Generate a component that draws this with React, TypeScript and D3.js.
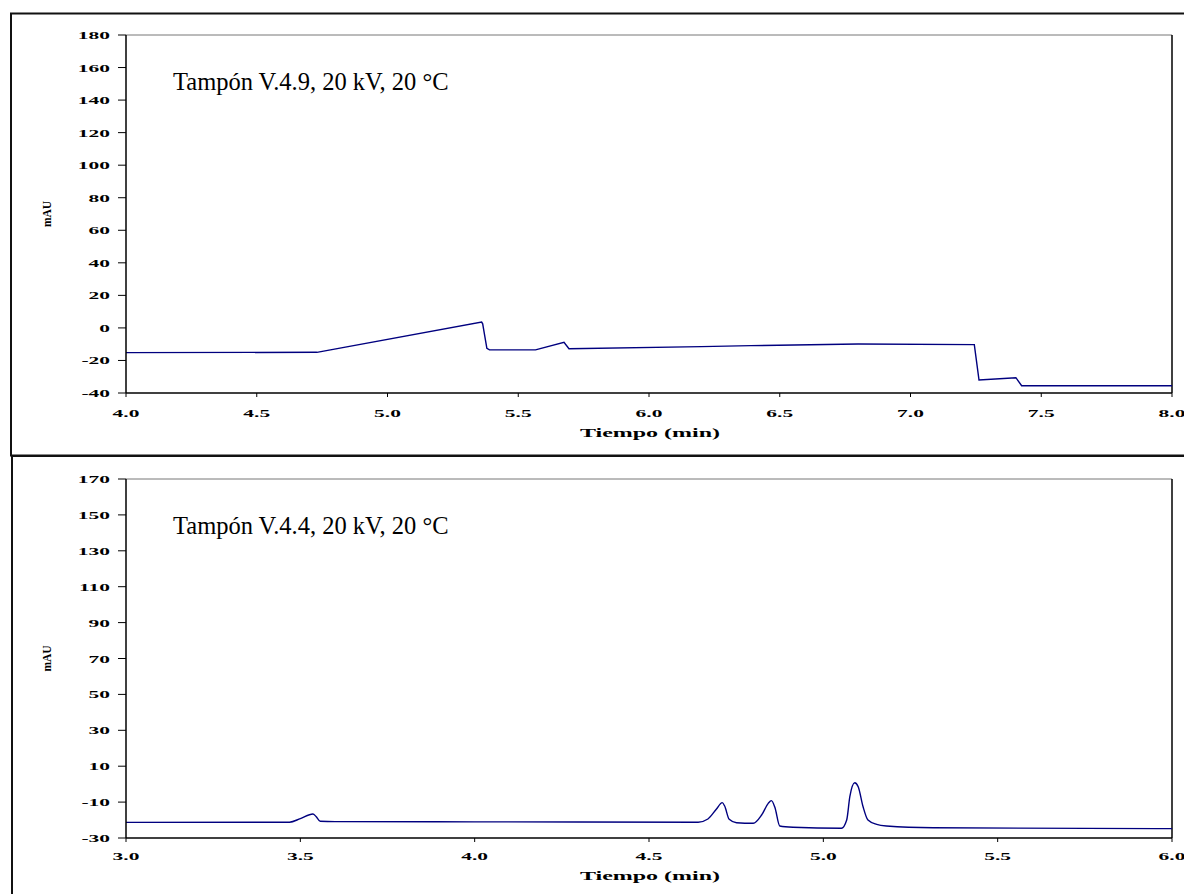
import React from "react";
import * as d3 from "d3";

const topTitle = "Tampón V.4.9, 20 kV, 20 °C";
const bottomTitle = "Tampón V.4.4, 20 kV, 20 °C";
const xLabel = "Tiempo (min)";
const yLabel = "mAU";

const topXTicks = [4.0, 4.5, 5.0, 5.5, 6.0, 6.5, 7.0, 7.5, 8.0];
const topYTicks = [-40, -20, 0, 20, 40, 60, 80, 100, 120, 140, 160, 180];
const topTime = [4.0, 4.73, 5.36, 5.364, 5.372, 5.38, 5.39, 5.566, 5.675, 5.694, 6.2, 6.39, 6.8, 7.244, 7.252, 7.262, 7.403, 7.425, 8.0];
const topSignal = [-15.2, -15.0, 3.6, 2.5, -5, -12.5, -13.5, -13.5, -8.8, -12.8, -11.5, -10.9, -9.9, -10.3, -20, -32, -30.6, -35.5, -35.5];

const botXTicks = [3.0, 3.5, 4.0, 4.5, 5.0, 5.5, 6.0];
const botYTicks = [-30, -10, 10, 30, 50, 70, 90, 110, 130, 150, 170];
const botTime = [3.0, 3.469, 3.5, 3.536, 3.545, 3.557, 3.6, 4.0, 4.641, 4.669, 4.693, 4.71, 4.717, 4.73, 4.751, 4.799, 4.823, 4.842, 4.851, 4.861, 4.875, 4.913, 5.052, 5.067, 5.076, 5.09, 5.1, 5.114, 5.128, 5.153, 5.181, 5.315, 6.0];
const botSignal = [-21.3, -21.2, -19.2, -16.6, -18.0, -20.7, -20.9, -21.0, -21.2, -19.4, -14.0, -10.3, -12.2, -19.6, -21.5, -21.8, -17.2, -10.7, -9.2, -12.9, -23.3, -24.0, -24.6, -20.0, -7.0, 0.8, -1.4, -12.6, -20.0, -22.4, -23.3, -24.3, -24.8];

type PanelProps = {
  title: string;
  xTicks: number[];
  yTicks: number[];
  time: number[];
  signal: number[];
  top: number;
  bottom: number;
  smooth: boolean;
  xLabOff: number;
  titleY: number;
};

const LEFT = 126;
const RIGHT = 1172;
const FONT = "'Liberation Serif', 'Times New Roman', serif";

function Panel(p: PanelProps) {
  const x = d3.scaleLinear().domain([p.xTicks[0], p.xTicks[p.xTicks.length - 1]]).range([LEFT, RIGHT]);
  const y = d3.scaleLinear().domain([p.yTicks[0], p.yTicks[p.yTicks.length - 1]]).range([p.bottom, p.top]);
  const pts = p.time.map((t, i) => [t, p.signal[i]] as [number, number]);
  const line = d3
    .line<[number, number]>()
    .x((d) => x(d[0]))
    .y((d) => y(d[1]))
    .curve(p.smooth ? d3.curveMonotoneX : d3.curveLinear);
  const fmt = d3.format(".1f");
  const midY = (p.top + p.bottom) / 2;
  return (
    <g>
      <line x1={LEFT} x2={RIGHT} y1={p.top} y2={p.top} stroke="#777" strokeWidth={1} />
      <line x1={RIGHT} x2={RIGHT} y1={p.top} y2={p.bottom} stroke="#000" strokeWidth={1.5} />
      <path d={line(pts) || ""} fill="none" stroke="#00007f" strokeWidth={1.4} />
      <line x1={LEFT} x2={LEFT} y1={p.top} y2={p.bottom} stroke="#000" strokeWidth={1.5} />
      <line x1={LEFT} x2={RIGHT} y1={p.bottom} y2={p.bottom} stroke="#000" strokeWidth={1.5} />
      {p.yTicks.map((v) => (
        <g key={"y" + v}>
          <line x1={LEFT - 8} x2={LEFT} y1={y(v)} y2={y(v)} stroke="#000" strokeWidth={1} />
          <text
            transform={`translate(${LEFT - 16},${y(v) + 4}) scale(1.95,1)`}
            textAnchor="end"
            fontFamily={FONT}
            fontWeight="bold"
            fontSize={11}
            fill="#000"
          >
            {v}
          </text>
        </g>
      ))}
      {p.xTicks.map((v) => (
        <g key={"x" + v}>
          <line x1={x(v)} x2={x(v)} y1={p.bottom} y2={p.bottom + 4} stroke="#000" strokeWidth={1} />
          <text
            transform={`translate(${x(v)},${p.bottom + p.xLabOff}) scale(1.95,1)`}
            textAnchor="middle"
            fontFamily={FONT}
            fontWeight="bold"
            fontSize={11}
            fill="#000"
          >
            {fmt(v)}
          </text>
        </g>
      ))}
      <text
        transform={`translate(650,${p.bottom + p.xLabOff + 20}) scale(2,1)`}
        textAnchor="middle"
        fontFamily={FONT}
        fontWeight="bold"
        fontSize={12}
        fill="#000"
      >
        {xLabel}
      </text>
      <text
        transform={`translate(51,${midY}) rotate(-90) scale(1.15,1.2)`}
        textAnchor="middle"
        fontFamily={FONT}
        fontWeight="bold"
        fontSize={10}
        fill="#000"
      >
        {yLabel}
      </text>
      <text x={173} y={p.titleY} fontFamily={FONT} fontSize={24.5} fill="#000">
        {p.title}
      </text>
    </g>
  );
}

export default function App() {
  return (
    <svg
      width={1184}
      height={894}
      style={{ position: "absolute", left: 0, top: 0, background: "#fff" }}
    >
      <rect x={0} y={0} width={1184} height={894} fill="#fff" />
      <rect x={11} y={13.5} width={1200} height={442} fill="none" stroke="#111" strokeWidth={2} />
      <rect x={12} y={456} width={1200} height={500} fill="none" stroke="#111" strokeWidth={2} />
      <Panel
        title={topTitle}
        xTicks={topXTicks}
        yTicks={topYTicks}
        time={topTime}
        signal={topSignal}
        top={35}
        bottom={393}
        smooth={false}
        xLabOff={24}
        titleY={90}
      />
      <Panel
        title={bottomTitle}
        xTicks={botXTicks}
        yTicks={botYTicks}
        time={botTime}
        signal={botSignal}
        top={479}
        bottom={838}
        smooth={true}
        xLabOff={22}
        titleY={534}
      />
    </svg>
  );
}
